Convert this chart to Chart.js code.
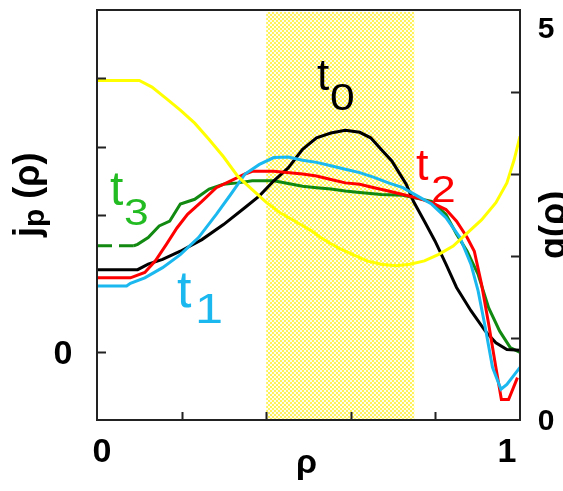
<!DOCTYPE html>
<html>
<head>
<meta charset="utf-8">
<script src="https://cdn.jsdelivr.net/npm/chart.js@4.4.1/dist/chart.umd.min.js"></script>
<style>
  html, body { margin: 0; padding: 0; background: #fff; }
</style>
</head>
<body>
<canvas id="jpChart" width="563" height="491"></canvas>
<script>
// current density profiles j_p(rho) at four times, left axis
const rhoT0 = [0, 0.096, 0.121, 0.155, 0.197, 0.248, 0.299, 0.35, 0.384, 0.418, 0.452, 0.486, 0.519, 0.553, 0.587, 0.621, 0.647, 0.672, 0.697, 0.714, 0.731, 0.748, 0.774, 0.799, 0.825, 0.85, 0.884, 0.918, 0.943, 0.969, 1.0];
const jT0 = [1.20, 1.20, 1.28, 1.35, 1.47, 1.64, 1.86, 2.11, 2.28, 2.50, 2.69, 2.96, 3.13, 3.20, 3.24, 3.21, 3.13, 2.96, 2.79, 2.62, 2.45, 2.20, 1.91, 1.62, 1.28, 0.94, 0.60, 0.30, 0.13, 0.03, 0.02];

const rhoT1 = [0, 0.070, 0.079, 0.113, 0.155, 0.197, 0.24, 0.282, 0.316, 0.35, 0.384, 0.418, 0.452, 0.486, 0.519, 0.553, 0.587, 0.621, 0.655, 0.689, 0.723, 0.757, 0.791, 0.825, 0.858, 0.884, 0.901, 0.918, 0.935, 0.955, 0.969, 1.0];
const jT1 = [0.96, 0.96, 1.0, 1.08, 1.23, 1.42, 1.67, 2.01, 2.30, 2.60, 2.74, 2.84, 2.85, 2.80, 2.77, 2.72, 2.67, 2.62, 2.55, 2.47, 2.40, 2.28, 2.16, 1.96, 1.67, 1.28, 0.89, 0.35, -0.23, -0.55, -0.48, -0.23];

const rhoT2 = [0, 0.079, 0.113, 0.138, 0.164, 0.189, 0.214, 0.248, 0.282, 0.316, 0.35, 0.367, 0.418, 0.486, 0.519, 0.553, 0.587, 0.621, 0.655, 0.689, 0.723, 0.757, 0.791, 0.825, 0.85, 0.875, 0.892, 0.909, 0.926, 0.943, 0.956, 0.973, 0.994];
const jT2 = [1.08, 1.08, 1.16, 1.33, 1.57, 1.81, 2.01, 2.20, 2.40, 2.50, 2.60, 2.64, 2.64, 2.60, 2.57, 2.52, 2.47, 2.45, 2.40, 2.35, 2.30, 2.25, 2.18, 2.08, 1.91, 1.67, 1.47, 0.99, 0.40, -0.23, -0.70, -0.70, -0.38];

const rhoT3 = [0, 0.087, 0.096, 0.121, 0.147, 0.172, 0.197, 0.231, 0.265, 0.299, 0.333, 0.367, 0.418, 0.452, 0.486, 0.519, 0.553, 0.587, 0.621, 0.672, 0.723, 0.791, 0.825, 0.85, 0.875, 0.901, 0.926, 0.952, 0.977, 1.0];
const jT3 = [1.55, 1.55, 1.57, 1.67, 1.84, 1.91, 2.16, 2.23, 2.38, 2.45, 2.47, 2.50, 2.50, 2.46, 2.42, 2.40, 2.38, 2.35, 2.33, 2.30, 2.29, 2.20, 2.01, 1.72, 1.47, 1.13, 0.64, 0.30, 0.06, -0.01];

// safety factor q(rho), right axis
const rhoQ = [0, 0.1, 0.13, 0.164, 0.197, 0.231, 0.265, 0.299, 0.333, 0.367, 0.401, 0.435, 0.469, 0.503, 0.536, 0.570, 0.604, 0.638, 0.672, 0.706, 0.740, 0.774, 0.808, 0.842, 0.875, 0.909, 0.943, 0.969, 0.986, 1.0];
const qVals = [4.14, 4.14, 4.06, 3.92, 3.78, 3.62, 3.42, 3.21, 2.97, 2.81, 2.65, 2.52, 2.42, 2.32, 2.20, 2.10, 2.02, 1.94, 1.90, 1.88, 1.90, 1.94, 2.02, 2.12, 2.28, 2.44, 2.65, 2.89, 3.17, 3.46];

// shaded rho band
const band = [0.4, 0.75];

// tick marks and labels
const xTicks = [0.2, 0.4, 0.6, 0.8];
const leftTicks = [0, 2, 3, 4];
const rightTicks = [1, 2, 3, 4];
const xLabels = ['0', '1'];
const leftLabels = ['0'];
const rightLabels = ['0', '5'];

const FONT = '"Liberation Sans", Arial, sans-serif';

const toPoints = (xs, ys) => xs.map((x, i) => ({ x, y: ys[i] }));

const makeHatch = (ctx) => {
  const c = document.createElement('canvas');
  c.width = 4;
  c.height = 4;
  const g = c.getContext('2d');
  g.fillStyle = '#fffff0';
  g.fillRect(0, 0, 4, 4);
  g.fillStyle = '#fff25a';
  g.fillRect(0, 0, 2, 2);
  g.fillRect(2, 2, 2, 2);
  return ctx.createPattern(c, 'repeat');
};

const drawT = (ctx, sub, color, tSize, tx, tBase, subSize, sx, sBase) => {
  ctx.fillStyle = color;
  ctx.textAlign = 'left';
  ctx.textBaseline = 'alphabetic';
  ctx.font = `${tSize}px ${FONT}`;
  ctx.fillText('t', tx, tBase);
  ctx.save();
  ctx.translate(sx, sBase);
  ctx.scale(1.2, 1);
  ctx.font = `${subSize}px ${FONT}`;
  ctx.fillText(sub, 0, 0);
  ctx.restore();
};

const frameAndText = {
  id: 'frameAndText',
  beforeDatasetsDraw(chart) {
    const { ctx, chartArea: a, scales } = chart;
    const x0 = scales.x.getPixelForValue(band[0]);
    const x1 = scales.x.getPixelForValue(band[1]);
    ctx.save();
    ctx.fillStyle = makeHatch(ctx);
    ctx.fillRect(x0, a.top + 2, x1 - x0, a.bottom - a.top - 2);
    ctx.restore();
  },
  afterDatasetsDraw(chart) {
    const { ctx, chartArea: a, scales } = chart;
    const { x, y, y2 } = scales;
    ctx.save();

    // box
    ctx.strokeStyle = '#222';
    ctx.lineWidth = 2;
    ctx.strokeRect(a.left, a.top, a.right - a.left, a.bottom - a.top);

    // inward ticks
    ctx.beginPath();
    leftTicks.forEach(v => {
      const py = Math.round(y.getPixelForValue(v)) + 0.5;
      ctx.moveTo(a.left, py);
      ctx.lineTo(a.left + 9, py);
    });
    rightTicks.forEach(v => {
      const py = Math.round(y2.getPixelForValue(v)) + 0.5;
      ctx.moveTo(a.right - 9, py);
      ctx.lineTo(a.right, py);
    });
    xTicks.forEach(v => {
      const px = Math.round(x.getPixelForValue(v)) + 0.5;
      ctx.moveTo(px, a.bottom - 8);
      ctx.lineTo(px, a.bottom);
    });
    ctx.stroke();

    // tick labels
    ctx.fillStyle = '#000';
    ctx.textBaseline = 'alphabetic';
    ctx.textAlign = 'center';
    ctx.font = `bold 34px ${FONT}`;
    ctx.fillText(xLabels[0], x.getPixelForValue(0) + 5, a.bottom + 42);
    ctx.fillText(xLabels[1], x.getPixelForValue(1) - 13, a.bottom + 42);
    ctx.fillText(leftLabels[0], a.left - 34, y.getPixelForValue(0) + 12);
    ctx.font = `bold 30px ${FONT}`;
    ctx.fillText(rightLabels[0], a.right + 26, y2.getPixelForValue(0) + 10);
    ctx.fillText(rightLabels[1], a.right + 26, y2.getPixelForValue(5) + 28);

    // axis titles
    ctx.font = `bold 34px ${FONT}`;
    ctx.fillText('ρ', (a.left + a.right) / 2 - 2, a.bottom + 53);

    ctx.textAlign = 'left';
    ctx.save();
    ctx.translate(39, 237);
    ctx.rotate(-Math.PI / 2);
    ctx.font = `bold 36px ${FONT}`;
    ctx.fillText('j', 0, 0);
    let w = ctx.measureText('j').width;
    ctx.font = `bold 30px ${FONT}`;
    ctx.fillText('p', w, 5);
    w += ctx.measureText('p').width;
    ctx.font = `bold 36px ${FONT}`;
    ctx.fillText(' (ρ)', w, 0);
    ctx.restore();

    ctx.save();
    ctx.translate(565, 259);
    ctx.rotate(-Math.PI / 2);
    ctx.font = `bold 36px ${FONT}`;
    ctx.fillText('q(ρ)', 0, 0);
    ctx.restore();

    // curve labels
    drawT(ctx, '0', '#000000', 44, 317, 90, 37, 330, 110);
    drawT(ctx, '1', '#1ab8ee', 52, 177, 307, 42, 195, 323);
    drawT(ctx, '2', '#ff0000', 45, 416, 180, 37, 431, 202);
    drawT(ctx, '3', '#22bb22', 48, 110, 205, 37, 124, 225);

    ctx.restore();
  },
};

new Chart(document.getElementById('jpChart'), {
  type: 'line',
  data: {
    datasets: [
      {
        label: 'q',
        data: toPoints(rhoQ, qVals),
        yAxisID: 'y2',
        borderColor: '#ffff00',
        order: 0,
      },
      {
        label: 't1',
        data: toPoints(rhoT1, jT1),
        yAxisID: 'y',
        borderColor: '#1ab8ee',
        order: 1,
      },
      {
        label: 't2',
        data: toPoints(rhoT2, jT2),
        yAxisID: 'y',
        borderColor: '#ff0000',
        order: 2,
      },
      {
        label: 't0',
        data: toPoints(rhoT0, jT0),
        yAxisID: 'y',
        borderColor: '#000000',
        order: 3,
      },
      {
        label: 't3',
        data: toPoints(rhoT3, jT3),
        yAxisID: 'y',
        borderColor: '#128a12',
        order: 4,
        segment: {
          borderDash: c => (c.p1.parsed.x <= 0.09 ? [15, 7] : undefined),
        },
      },
    ],
  },
  options: {
    responsive: false,
    animation: false,
    layout: { padding: { left: 97, right: 43, top: 10, bottom: 71 } },
    plugins: { legend: { display: false }, tooltip: { enabled: false } },
    elements: {
      point: { radius: 0 },
      line: { borderWidth: 3, tension: 0, fill: false },
    },
    scales: {
      x: { type: 'linear', min: 0, max: 1, display: false },
      y: { type: 'linear', min: -1, max: 5, display: false },
      y2: { type: 'linear', min: 0, max: 5, display: false, position: 'right' },
    },
  },
  plugins: [frameAndText],
});
</script>
</body>
</html>
